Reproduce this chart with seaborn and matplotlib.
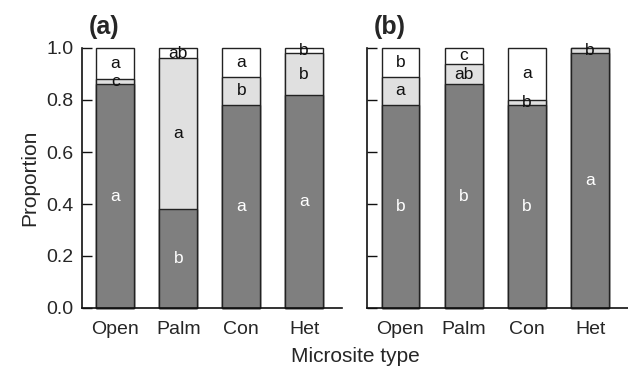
import numpy as np
import pandas as pd
import matplotlib.pyplot as plt
import seaborn as sns

sns.set_style('white')
plt.rcParams['font.family'] = ['Liberation Sans', 'DejaVu Sans']

# данные: доли по типам микросайтов (нижний, средний, верхний сегмент)
sites = ['Open', 'Palm', 'Con', 'Het']

a_low = [0.86, 0.38, 0.78, 0.82]
a_mid = [0.02, 0.58, 0.11, 0.16]
a_top = [0.12, 0.04, 0.11, 0.02]
a_letters_low = ['a', 'b', 'a', 'a']
a_letters_mid = ['c', 'a', 'b', 'b']
a_letters_top = ['a', 'ab', 'a', 'b']

b_low = [0.78, 0.86, 0.78, 0.98]
b_mid = [0.11, 0.08, 0.02, 0.02]
b_top = [0.11, 0.06, 0.20, 0.00]
b_letters_low = ['b', 'b', 'b', 'a']
b_letters_mid = ['a', 'ab', 'b', 'b']
b_letters_top = ['b', 'c', 'a', '']

colors = ['#7f7f7f', '#e0e0e0', '#ffffff']
edge = '#222222'

fig = plt.figure(figsize=(6.28, 3.68), dpi=100)
ax1 = fig.add_axes([82 / 628, 1 - 308 / 368, 260 / 628, 260 / 368])
ax2 = fig.add_axes([367 / 628, 1 - 308 / 368, 261 / 628, 260 / 368])


def draw_panel(ax, low, mid, top, lets, tag):
    df = pd.DataFrame({'site': sites, 'low': low, 'mid': mid, 'top': top})
    df['c1'] = df['low']
    df['c2'] = df['low'] + df['mid']
    df['c3'] = df['c2'] + df['top']
    # рисуем слои сверху вниз, наложением
    for col, c in zip(['c3', 'c2', 'c1'], colors[::-1]):
        sns.barplot(data=df, x='site', y=col, color=c, width=0.6,
                    edgecolor=edge, linewidth=1.0, saturation=1, ax=ax)
    bounds = [np.zeros(4), df['c1'].values, df['c2'].values, df['c3'].values]
    for k in range(3):
        for i in range(4):
            t = lets[k][i]
            if not t:
                continue
            y = (bounds[k][i] + bounds[k + 1][i]) / 2
            ax.text(i, y, t, ha='center', va='center', fontsize=12.5,
                    color='white' if k == 0 else '#111111')
    ax.set_xlim(-0.53, 3.6)
    ax.set_ylim(0, 1.0)
    for p in ax.patches:
        p.set_clip_on(False)
    ax.set_xlabel('')
    ax.set_ylabel('')
    sns.despine(ax=ax)
    ax.spines['left'].set_color('#111111')
    ax.spines['bottom'].set_color('#111111')
    ax.spines['left'].set_linewidth(1.2)
    ax.spines['bottom'].set_linewidth(1.2)
    ax.set_yticks([0, 0.2, 0.4, 0.6, 0.8, 1.0])
    ax.tick_params(axis='y', direction='in', length=7, width=1.0, color='#111111',
                   labelsize=14, pad=6, left=True)
    ax.tick_params(axis='x', length=0, labelsize=14, pad=9)
    ax.text(0.025, 1.08, tag, transform=ax.transAxes, fontsize=18,
            fontweight='bold', ha='left', va='center')


draw_panel(ax1, a_low, a_mid, a_top, [a_letters_low, a_letters_mid, a_letters_top], '(a)')
ax1.set_yticklabels(['0.0', '0.2', '0.4', '0.6', '0.8', '1.0'])
ax1.set_ylabel('Proportion', fontsize=15, labelpad=5)

draw_panel(ax2, b_low, b_mid, b_top, [b_letters_low, b_letters_mid, b_letters_top], '(b)')
ax2.set_yticklabels([])

fig.text(355 / 628, 1 - 356 / 368, 'Microsite type', ha='center', va='center', fontsize=15)

fig.savefig('out.png', dpi=100)
